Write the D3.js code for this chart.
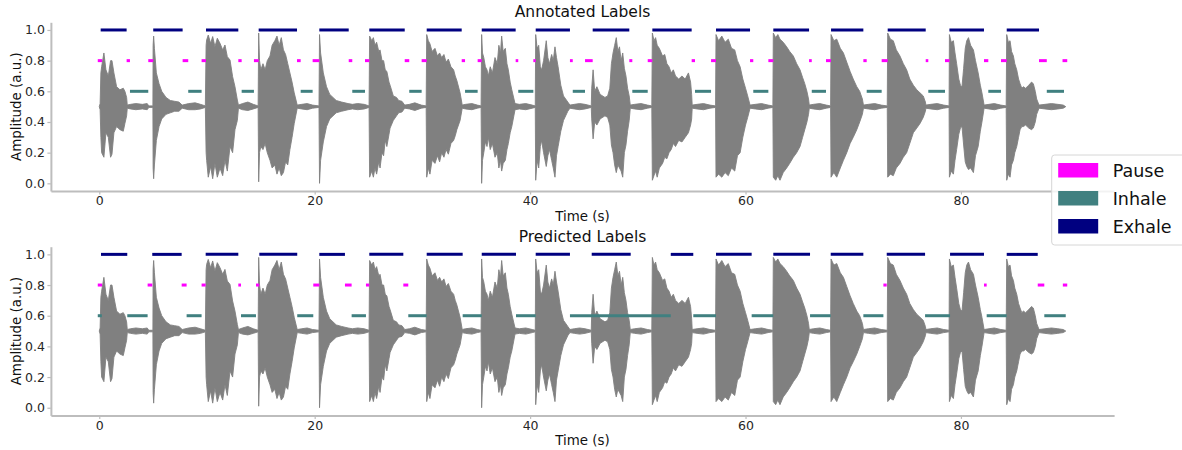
<!DOCTYPE html>
<html>
<head>
<meta charset="utf-8">
<script src="https://cdn.jsdelivr.net/npm/d3@7"></script>
<style>
  html, body { margin: 0; padding: 0; background: #fff; }
  svg { display: block; font-family: "DejaVu Sans", sans-serif; }
</style>
</head>
<body>
<svg id="chart" width="1182" height="450"></svg>
<script>
// ---------------- DATA ----------------
const xTicks = [0, 20, 40, 60, 80];
const yTicks = [0.0, 0.2, 0.4, 0.6, 0.8, 1.0];
const classNames = ["Pause", "Inhale", "Exhale"];
const classLevels = [0.8, 0.6, 1.0];
const panelTitles = ["Annotated Labels", "Predicted Labels"];

// waveform envelope: [time (s), upper, lower]
const envelope = [
  [0.0,0.5,0.5],[0.08,0.52,0.48],[0.15,0.72,0.30],[0.22,0.76,0.2],[0.43,0.85,0.17],[0.62,0.74,0.33],[0.84,0.70,0.30],[1.05,0.80,0.17],[1.18,0.80,0.19],[1.36,0.72,0.33],[1.61,0.63,0.37],[1.92,0.61,0.35],[2.23,0.62,0.34],[2.38,0.60,0.39],[2.54,0.56,0.44],[2.6,0.51,0.49],
  [2.9,0.515,0.485],[3.4,0.52,0.48],[4.0,0.515,0.485],[4.45,0.52,0.48],[4.6,0.505,0.495],[4.98,0.505,0.495],
  [5.0,0.9,0.1],[5.05,0.96,0.03],[5.12,0.88,0.12],[5.3,0.72,0.28],[5.55,0.65,0.37],[5.8,0.6,0.42],[6.2,0.56,0.45],[6.6,0.54,0.46],[7.0,0.535,0.47],[7.4,0.53,0.47],[7.7,0.51,0.49],
  [8.3,0.52,0.48],[8.9,0.525,0.48],[9.4,0.515,0.485],[9.85,0.505,0.495],
  [9.92,0.90,0.2],[9.97,0.935,0.15],[10.12,0.967,0.04],[10.34,0.913,0.11],[10.53,0.957,0.03],[10.74,0.891,0.13],[10.96,0.946,0.04],[11.21,0.913,0.1],[11.46,0.87,0.05],[11.67,0.902,0.15],[11.89,0.826,0.08],[12.14,0.804,0.24],[12.38,0.696,0.2],[12.6,0.63,0.35],[12.82,0.543,0.41],[12.92,0.51,0.49],
  [13.3,0.52,0.48],[13.8,0.53,0.475],[14.3,0.515,0.485],[14.75,0.505,0.495],
  [14.8,0.98,0.01],[14.88,0.8,0.2],[15.0,0.74,0.24],[15.2,0.78,0.22],[15.4,0.74,0.26],[15.6,0.8,0.2],[15.85,0.83,0.15],[16.05,0.9,0.1],[16.3,0.93,0.12],[16.5,0.96,0.06],[16.7,0.9,0.1],[16.9,0.95,0.05],[17.1,0.87,0.07],[17.3,0.84,0.14],[17.5,0.78,0.12],[17.7,0.72,0.22],[17.9,0.66,0.3],[18.1,0.59,0.39],[18.38,0.51,0.49],
  [18.8,0.515,0.485],[19.3,0.52,0.48],[19.8,0.51,0.49],[20.4,0.505,0.495],
  [20.45,0.97,0.0],[20.55,0.85,0.15],[20.8,0.72,0.27],[21.1,0.63,0.37],[21.4,0.58,0.42],[22.0,0.54,0.46],[22.5,0.53,0.47],[23.1,0.52,0.48],
  [23.5,0.515,0.485],[24.0,0.52,0.48],[24.6,0.515,0.485],[25.05,0.505,0.495],
  [25.1,0.96,0.04],[25.3,0.93,0.08],[25.45,0.95,0.04],[25.6,0.9,0.1],[25.75,0.92,0.06],[25.95,0.86,0.14],[26.07,0.87,0.1],[26.25,0.8,0.2],[26.4,0.8,0.18],[26.55,0.74,0.28],[26.7,0.73,0.24],[26.9,0.66,0.32],[27.0,0.64,0.36],[27.3,0.57,0.41],[27.6,0.56,0.44],[27.8,0.54,0.46],[28.1,0.535,0.465],[28.36,0.51,0.49],
  [28.8,0.515,0.485],[29.3,0.525,0.475],[29.9,0.51,0.49],[30.35,0.505,0.495],
  [30.4,0.97,0.04],[30.55,0.93,0.1],[30.7,0.91,0.06],[30.9,0.86,0.15],[31.17,0.88,0.13],[31.4,0.83,0.18],[31.6,0.85,0.14],[31.79,0.82,0.2],[32.0,0.84,0.17],[32.2,0.79,0.22],[32.41,0.81,0.19],[32.65,0.76,0.26],[32.9,0.74,0.28],[33.05,0.7,0.31],[33.2,0.67,0.35],[33.5,0.59,0.41],[33.7,0.51,0.49],
  [34.0,0.515,0.485],[34.6,0.52,0.48],[35.1,0.51,0.49],[35.45,0.505,0.495],
  [35.5,0.97,0.0],[35.58,0.85,0.15],[35.7,0.82,0.2],[35.85,0.76,0.27],[36.0,0.74,0.24],[36.12,0.7,0.3],[36.3,0.76,0.22],[36.5,0.72,0.26],[36.74,0.82,0.17],[36.95,0.78,0.2],[37.1,0.9,0.1],[37.25,0.85,0.15],[37.36,0.96,0.08],[37.5,0.86,0.13],[37.7,0.88,0.15],[37.85,0.78,0.22],[37.98,0.74,0.26],[38.15,0.66,0.33],[38.3,0.61,0.37],[38.6,0.52,0.48],
  [39.0,0.515,0.485],[39.6,0.52,0.48],[40.2,0.51,0.49],[40.48,0.505,0.495],
  [40.52,0.97,0.02],[40.65,0.88,0.15],[40.8,0.9,0.1],[40.95,0.76,0.24],[41.07,0.74,0.28],[41.25,0.8,0.2],[41.5,0.93,0.11],[41.65,0.82,0.18],[41.8,0.78,0.22],[42.0,0.84,0.15],[42.15,0.8,0.1],[42.31,0.89,0.04],[42.45,0.82,0.18],[42.6,0.76,0.24],[42.85,0.64,0.34],[43.1,0.57,0.41],[43.5,0.53,0.47],[43.7,0.51,0.49],
  [44.1,0.515,0.485],[44.6,0.52,0.48],[45.1,0.515,0.485],[45.68,0.505,0.495],
  [45.72,0.62,0.42],[45.85,0.74,0.29],[46.0,0.6,0.4],[46.2,0.63,0.38],[46.5,0.58,0.42],[46.95,0.56,0.44],[47.2,0.57,0.43],[47.4,0.62,0.38],[47.55,0.78,0.25],[47.7,0.85,0.2],[47.85,0.9,0.12],[48.0,0.95,0.07],[48.15,0.86,0.12],[48.3,0.89,0.1],[48.45,0.8,0.08],[48.6,0.85,0.04],[48.75,0.75,0.2],[48.9,0.7,0.25],[49.05,0.62,0.34],[49.2,0.57,0.41],[49.3,0.51,0.49],
  [49.7,0.515,0.485],[50.3,0.52,0.48],[50.9,0.51,0.49],[51.3,0.505,0.495],
  [51.35,0.98,0.02],[51.5,0.93,0.05],[51.65,0.95,0.08],[51.8,0.9,0.04],[52.0,0.88,0.1],[52.3,0.83,0.13],[52.5,0.84,0.17],[52.7,0.78,0.16],[52.9,0.76,0.2],[53.1,0.72,0.22],[53.3,0.74,0.26],[53.5,0.7,0.24],[53.8,0.68,0.28],[54.1,0.7,0.27],[54.4,0.68,0.3],[54.7,0.72,0.33],[54.9,0.66,0.38],[55.0,0.58,0.42],[55.05,0.51,0.49],
  [55.5,0.515,0.485],[56.1,0.52,0.48],[56.7,0.51,0.49],[57.22,0.505,0.495],
  [57.26,0.97,0.04],[57.5,0.93,0.06],[57.8,0.96,0.04],[58.1,0.92,0.07],[58.4,0.94,0.05],[58.7,0.88,0.1],[59.0,0.87,0.08],[59.25,0.8,0.18],[59.5,0.76,0.2],[59.75,0.68,0.3],[60.0,0.62,0.38],[60.2,0.57,0.43],[60.42,0.51,0.49],
  [60.9,0.515,0.485],[61.5,0.52,0.48],[62.1,0.51,0.49],[62.54,0.505,0.495],
  [62.58,0.98,0.04],[62.8,0.95,0.02],[63.0,0.97,0.05],[63.2,0.94,0.02],[63.5,0.92,0.07],[63.82,0.89,0.1],[64.1,0.86,0.13],[64.44,0.83,0.17],[64.75,0.78,0.2],[65.06,0.74,0.24],[65.3,0.69,0.3],[65.5,0.65,0.35],[65.7,0.6,0.4],[65.85,0.55,0.45],[65.92,0.51,0.49],
  [66.3,0.515,0.485],[66.9,0.52,0.48],[67.5,0.51,0.49],[67.9,0.505,0.495],
  [67.94,0.97,0.04],[68.2,0.93,0.07],[68.47,0.94,0.04],[68.8,0.88,0.1],[69.09,0.85,0.15],[69.4,0.79,0.2],[69.71,0.73,0.26],[70.0,0.68,0.3],[70.33,0.63,0.35],[70.6,0.6,0.4],[70.85,0.55,0.45],[70.95,0.51,0.49],
  [71.4,0.515,0.485],[72.0,0.52,0.48],[72.6,0.51,0.49],[73.16,0.505,0.495],
  [73.2,0.98,0.04],[73.45,0.94,0.06],[73.72,0.93,0.05],[74.0,0.87,0.1],[74.34,0.83,0.13],[74.65,0.78,0.17],[74.96,0.74,0.2],[75.25,0.68,0.26],[75.58,0.64,0.33],[75.9,0.61,0.36],[76.2,0.59,0.39],[76.5,0.57,0.43],[76.7,0.53,0.47],[76.75,0.51,0.49],
  [77.2,0.515,0.485],[77.8,0.52,0.48],[78.4,0.51,0.49],[78.9,0.505,0.495],
  [78.93,0.97,0.04],[79.1,0.92,0.08],[79.3,0.93,0.06],[79.45,0.85,0.15],[79.6,0.78,0.22],[79.8,0.68,0.32],[79.95,0.64,0.36],[80.1,0.63,0.37],[80.25,0.75,0.25],[80.4,0.88,0.14],[80.54,0.93,0.11],[80.7,0.95,0.09],[80.9,0.9,0.1],[81.16,0.87,0.07],[81.35,0.8,0.18],[81.6,0.72,0.24],[81.8,0.64,0.34],[81.95,0.59,0.4],[82.15,0.51,0.49],
  [82.6,0.515,0.485],[83.1,0.52,0.48],[83.7,0.51,0.49],[84.2,0.505,0.495],
  [84.25,0.97,0.02],[84.4,0.92,0.06],[84.56,0.93,0.04],[84.7,0.86,0.12],[84.87,0.83,0.15],[85.0,0.78,0.2],[85.18,0.74,0.24],[85.35,0.68,0.3],[85.49,0.65,0.35],[85.65,0.62,0.37],[85.8,0.63,0.37],[86.0,0.62,0.38],[86.3,0.64,0.36],[86.55,0.66,0.35],[86.72,0.65,0.36],[86.9,0.6,0.4],[87.03,0.55,0.45],[87.25,0.51,0.49],
  [87.8,0.515,0.485],[88.4,0.52,0.48],[89.0,0.515,0.485],[89.5,0.51,0.49],[89.73,0.5,0.5]
];

// annotated segments [start, end] in seconds
const annotatedExhale = [[0.13,2.54],[5.01,7.74],[9.91,12.91],[14.8,18.36],[20.43,23.16],[25.07,28.36],[30.4,33.65],[35.51,38.66],[40.52,43.7],[45.81,49.21],[51.35,55.0],[57.26,60.42],[62.58,65.9],[67.94,70.94],[73.2,76.73],[78.93,82.14],[84.25,87.25]];
const annotatedPause = [[0,0.13],[2.54,2.85],[4.55,5.01],[7.74,8.26],[9.5,9.91],[12.91,13.22],[14.36,14.8],[18.36,18.7],[19.81,20.43],[23.16,23.49],[24.67,25.07],[28.36,28.78],[29.93,30.4],[33.65,33.96],[35.13,35.51],[38.66,38.9],[40.3,40.52],[43.7,43.96],[45.1,45.81],[49.21,49.49],[50.92,51.35],[55.0,55.31],[56.8,57.26],[60.42,60.72],[62.12,62.58],[65.9,66.15],[67.47,67.94],[70.94,71.25],[72.64,73.2],[76.73,76.97],[78.52,78.93],[82.14,82.54],[83.72,84.25],[87.25,87.97],[89.57,89.73]];
const annotatedInhale = [[2.85,4.55],[8.26,9.5],[13.22,14.36],[18.7,19.81],[23.49,24.67],[28.78,29.93],[33.96,35.13],[38.9,40.3],[43.96,45.1],[49.49,50.92],[55.31,56.8],[60.72,62.12],[66.15,67.47],[71.25,72.64],[76.97,78.52],[82.54,83.72],[87.97,89.57]];

// predicted segments
const predictedExhale = [[0.16,2.6],[4.92,7.65],[9.88,12.91],[14.86,18.38],[20.43,22.81],[25.07,28.23],[30.4,33.74],[35.51,38.69],[40.52,43.7],[45.72,49.34],[53.06,55.15],[57.26,60.57],[62.58,65.99],[67.91,70.94],[73.11,76.67],[78.99,82.14],[84.25,87.13]];
const predictedPause = [[0,0.12],[4.49,4.92],[7.65,8.11],[9.5,9.88],[12.91,13.16],[14.55,14.86],[19.87,20.43],[22.81,23.43],[24.76,25.07],[28.23,28.69],[72.8,73.11],[82.14,82.39],[87.13,87.74],[89.6,89.73]];
const predictedInhale = [[0,0.1],[2.6,4.49],[8.11,9.5],[13.16,14.55],[18.38,19.87],[23.43,24.76],[28.69,30.4],[33.74,35.51],[38.69,40.52],[43.7,53.06],[55.15,57.26],[60.57,62.58],[65.99,67.91],[70.94,72.8],[76.67,78.99],[82.39,84.25],[87.74,89.73]];

// ---------------- STYLE ----------------
const colors = { Pause: "#ff00ff", Inhale: "#408080", Exhale: "#000080" };
const waveColor = "#808080";
const spineColor = "#bdbdbd";
const textColor = "#262626";

const svg = d3.select("#chart");
const x = d3.scaleLinear().domain([-4.49, 94.22]).range([50.9, 1114.1]);

const panels = [
  { title: panelTitles[0], yRange: [191.0, 22.3], segs: { Pause: annotatedPause, Inhale: annotatedInhale, Exhale: annotatedExhale } },
  { title: panelTitles[1], yRange: [415.4, 246.7], segs: { Pause: predictedPause, Inhale: predictedInhale, Exhale: predictedExhale } }
];

panels.forEach(p => {
  const y = d3.scaleLinear().domain([-0.05, 1.05]).range(p.yRange);
  const g = svg.append("g");

  // waveform
  const area = d3.area().x(d => x(d[0])).y0(d => y(d[2])).y1(d => y(d[1]));
  g.append("path").datum(envelope).attr("d", area)
    .attr("fill", waveColor).attr("stroke", waveColor).attr("stroke-width", 0.9)
    .attr("stroke-linejoin", "round");

  // label segments
  classNames.forEach((c, i) => {
    g.append("g").selectAll("line").data(p.segs[c]).join("line")
      .attr("x1", d => x(d[0])).attr("x2", d => x(d[1]))
      .attr("y1", y(classLevels[i])).attr("y2", y(classLevels[i]))
      .attr("stroke", colors[c]).attr("stroke-width", 3)
      .attr("stroke-linecap", d => (x(d[1]) - x(d[0]) < 2 ? "square" : "butt"));
  });

  // axes
  const xAxis = d3.axisBottom(x).tickValues(xTicks).tickFormat(d3.format("d")).tickSize(3.5).tickSizeOuter(0).tickPadding(2);
  const yAxis = d3.axisLeft(y).tickValues(yTicks).tickFormat(d3.format(".1f")).tickSize(3.5).tickSizeOuter(0).tickPadding(2.5);
  const gx = g.append("g").attr("transform", `translate(0,${p.yRange[0]})`).call(xAxis);
  const gy = g.append("g").attr("transform", `translate(${x.range()[0]},0)`).call(yAxis);
  [gx, gy].forEach(a => {
    a.select(".domain").attr("stroke", spineColor).attr("stroke-width", 2);
    a.selectAll(".tick line").attr("stroke", spineColor).attr("stroke-width", 1.2);
    a.selectAll(".tick text").attr("fill", textColor).style("font-size", "12.5px").style("font-family", "DejaVu Sans");
  });

  // titles & labels
  const cx = (x.range()[0] + x.range()[1]) / 2;
  g.append("text").attr("x", cx).attr("y", p.yRange[1] - 5).attr("text-anchor", "middle")
    .attr("fill", "#111").style("font-size", "15.5px").text(p.title);
  g.append("text").attr("x", cx).attr("y", p.yRange[0] + 30).attr("text-anchor", "middle")
    .attr("fill", "#111").style("font-size", "13.4px").text("Time (s)");
  const cy = (p.yRange[0] + p.yRange[1]) / 2;
  g.append("text").attr("transform", `translate(21,${cy}) rotate(-90)`).attr("text-anchor", "middle")
    .attr("fill", "#111").style("font-size", "13.4px").text("Amplitude (a.u.)");
});

// legend
const lg = svg.append("g").attr("transform", "translate(1051.7,155)");
lg.append("rect").attr("x", 0).attr("y", 0).attr("width", 150).attr("height", 90).attr("rx", 3)
  .attr("fill", "#fff").attr("fill-opacity", 0.8).attr("stroke", "#d6d6d6").attr("stroke-width", 1);
classNames.forEach((c, i) => {
  const yy = 8 + i * 28;
  lg.append("rect").attr("x", 6.5).attr("y", yy).attr("width", 40).attr("height", 14.5).attr("fill", colors[c]);
  lg.append("text").attr("x", 61).attr("y", yy + 13.5).attr("fill", "#111").style("font-size", "17.5px").text(c);
});
</script>
</body>
</html>
